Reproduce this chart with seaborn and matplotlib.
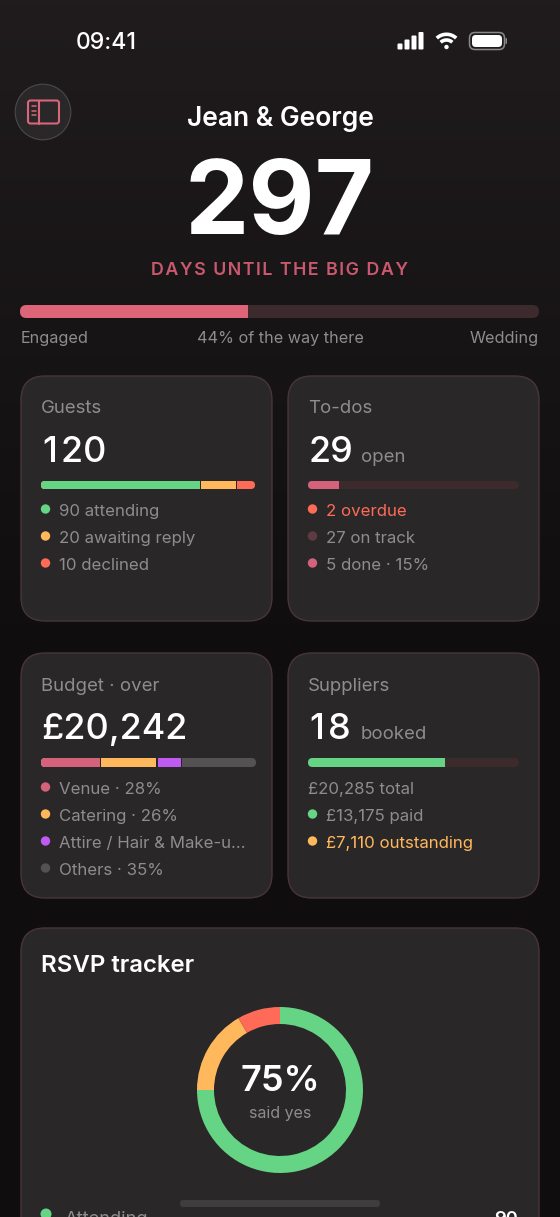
import numpy as np
import matplotlib
matplotlib.use("Agg")
import matplotlib.pyplot as plt
from matplotlib.patches import FancyBboxPatch, Circle
import seaborn as sns

# ---- data ----
couple = "Jean & George"
days_left = "297"
journey_pct = [44, 56]
guest_labels = ["90 attending", "20 awaiting reply", "10 declined"]
guest_values = [90, 20, 10]
todo_labels = ["2 overdue", "27 on track", "5 done · 15%"]
todo_values = [5, 29]
budget_labels = ["Venue · 28%", "Catering · 26%", "Attire / Hair & Make-u...", "Others · 35%"]
budget_values = [28, 26, 11, 35]
supplier_labels = ["£20,285 total", "£13,175 paid", "£7,110 outstanding"]
supplier_values = [13175, 7110]
rsvp_labels = ["Attending"]
rsvp_values = [90, 20, 10]

W, H = 560, 1217
GREEN, AMBER, RED = "#66d485", "#ffb85c", "#ff6b57"
PINK, PURPLE, GREY = "#d4627a", "#bf5af2", "#555254"
TRACK, CARD, EDGE = "#3d2a2d", "#2a2728", "#483538"
MUTED, WHITE = "#8f8c8d", "#ffffff"
BODY = 16.8
LABEL = 18.6
BIG = 36

sns.set_theme(style="white")
plt.rcParams["font.family"] = ["Inter", "DejaVu Sans"]

fig = plt.figure(figsize=(W / 100, H / 100), dpi=100)
main = fig.add_axes([0, 0, 1, 1])
yy = np.linspace(0, 1, 256)
c0, c1 = np.array([0x20, 0x1c, 0x1d]) / 255, np.array([0x0f, 0x0d, 0x0e]) / 255
t = np.clip(yy / 0.55, 0, 1)[:, None, None]
grad = c0[None, None, :] * (1 - t) + c1[None, None, :] * t
main.imshow(grad, extent=[0, W, H, 0], aspect="auto", zorder=0)
main.set_xlim(0, W)
main.set_ylim(H, 0)
main.axis("off")


def T(x, y, s, px, color=MUTED, weight="normal", ha="left"):
    main.text(x, y, s, fontsize=px * 0.72, color=color, fontweight=weight, ha=ha, va="baseline", zorder=5)


def rrect(x0, y0, x1, y1, r, fc, ec="none", lw=0, z=2):
    p = FancyBboxPatch((x0 + r, y0 + r), x1 - x0 - 2 * r, y1 - y0 - 2 * r,
                       boxstyle=f"round,pad={r},rounding_size={r}", fc=fc, ec=ec, lw=lw, zorder=z)
    main.add_patch(p)
    return p


def dot(x, y, c, r=4.7):
    main.add_patch(Circle((x, y), r, fc=c, ec="none", zorder=5))


def stacked(x0, y0, x1, y1, values, colors, total, track=None, gap_px=1.3):
    ax = fig.add_axes([x0 / W, 1 - y1 / H, (x1 - x0) / W, (y1 - y0) / H])
    ax.patch.set_alpha(0)
    r = (y1 - y0) / 2
    n_gaps = len(values) - 1 if not track else 0
    w = x1 - x0
    gap = gap_px * total / (w - n_gaps * gap_px) if n_gaps else 0
    span = total + n_gaps * gap
    ends = np.cumsum(values) + gap * np.arange(len(values))
    clip = FancyBboxPatch((x0 + r, y0 + r), w - 2 * r, y1 - y0 - 2 * r,
                          boxstyle=f"round,pad={r},rounding_size={r}", transform=main.transData)
    if track:
        sns.barplot(x=[span], y=[0], orient="h", color=track, saturation=1, width=1, linewidth=0, ax=ax)
    for v, c in list(zip(ends, colors))[::-1]:
        sns.barplot(x=[v], y=[0], orient="h", color=c, saturation=1, width=1, linewidth=0, ax=ax)
    if n_gaps:
        for v in ends[:-1]:
            ax.axvspan(v, v + gap, color=CARD, lw=0)
    ax.set_xlim(0, span)
    ax.set_ylim(0.5, -0.5)
    ax.axis("off")
    for art in list(ax.patches) + list(ax.lines):
        art.set_clip_path(clip)
    return ax


# ---- status bar ----
T(76, 49, "09:41", 23, WHITE, "medium")
for bx, bh in zip([397.5, 404.5, 411.5, 418.5], [6, 10, 14, 17.5]):
    rrect(bx, 49.5 - bh, bx + 5, 49.5, 1, WHITE, z=5)
cx, cy = 446.5, 48.5
for rad, lw in [(8.5, 2.6), (14.2, 2.6)]:
    a = np.radians(np.linspace(-43, 43, 30))
    main.plot(cx + rad * np.sin(a), cy - rad * np.cos(a), color=WHITE, lw=lw, solid_capstyle="butt", zorder=5)
main.add_patch(Circle((cx, cy - 1.5), 2.2, fc=WHITE, ec="none", zorder=5))
rrect(469.5, 32.5, 504.5, 49.5, 5.5, "none", "#8a8889", 1.1, z=5)
rrect(472, 35, 502, 47, 3.8, WHITE, z=5)
rrect(505.5, 38, 507, 44, 0.7, "#8a8889", z=5)

# ---- sidebar button ----
main.add_patch(Circle((43, 112), 27.8, fc="#2a2728", ec="#4b4a4b", lw=0.8, zorder=3))
rrect(28, 100.5, 59, 123.5, 2.5, "none", "#d9667a", 1.5, z=4)
main.plot([38.7, 38.7], [100.5, 123.5], color="#d9667a", lw=1.5, zorder=4)
for ly in [106, 110.5, 115]:
    main.plot([31.7, 35.7], [ly, ly], color="#d9667a", lw=1.1, zorder=4)

# ---- hero ----
T(280, 126, couple, 26.4, WHITE, "semibold", "center")
T(280, 234, days_left, 102, WHITE, "bold", "center")
T(280, 275, "\u200a".join("DAYS UNTIL THE BIG DAY"), 17.8, "#c9596f", "semibold", "center")
stacked(20, 305, 539, 318, journey_pct[:1], ["#de6578"], sum(journey_pct), track=TRACK)
T(21, 343, "Engaged", 16.2, MUTED)
T(280, 343, "44% of the way there", 16.2, MUTED, ha="center")
T(539, 343, "Wedding", 16.2, MUTED, ha="right")

# ---- cards ----
for x0, y0, x1, y1 in [(21, 376, 272, 621), (288, 376, 539, 621), (21, 653, 272, 898), (288, 653, 539, 898), (21, 928, 539, 1300)]:
    rrect(x0, y0, x1, y1, 24, CARD, EDGE, 1.0)

# Guests
T(41, 413, "Guests", LABEL)
T(43, 462, "1\u200a20", BIG, WHITE, "medium")
stacked(41, 481, 255, 489, guest_values, [GREEN, AMBER, RED], sum(guest_values))
for y, s, c in zip([516, 543, 570], guest_labels, [GREEN, AMBER, RED]):
    dot(45.5, y - 7, c)
    T(59, y, s, BODY)

# To-dos
T(308.5, 413, "To-dos", LABEL)
T(308.5, 462, "29", BIG, WHITE, "medium")
T(361, 462, "open", 18.5)
stacked(308, 481, 519, 489, todo_values[:1], [PINK], sum(todo_values), track=TRACK)
for y, s, c, tc in zip([516, 543, 570], todo_labels, [RED, "#5e3b43", PINK], [RED, MUTED, MUTED]):
    dot(312.5, y - 7, c)
    T(326, y, s, BODY, tc)

# Budget
T(41, 691, "Budget · over", LABEL)
T(41, 739, "£20,242", BIG, WHITE, "medium")
stacked(41, 758, 256, 767, budget_values, [PINK, AMBER, PURPLE, GREY], sum(budget_values))
for y, s, c in zip([794, 821, 848, 875], budget_labels, [PINK, AMBER, PURPLE, GREY]):
    dot(45.5, y - 7, c)
    T(59, y, s, BODY)

# Suppliers
T(308, 691, "Suppliers", LABEL)
T(310, 739, "1\u200a8", BIG, WHITE, "medium")
T(361, 739, "booked", 18.5)
stacked(308, 758, 519, 767, supplier_values[:1], [GREEN], sum(supplier_values), track=TRACK)
T(308, 794, supplier_labels[0], BODY)
dot(312.5, 814, GREEN)
T(326, 821, supplier_labels[1], BODY)
dot(312.5, 841, AMBER)
T(326, 848, supplier_labels[2], BODY, AMBER)

# RSVP
T(41, 972, "RSVP tracker", 24, WHITE, "semibold")
dax = fig.add_axes([(280 - 83) / W, 1 - (1090 + 83) / H, 166 / W, 166 / H])
dax.pie(rsvp_values, colors=[GREEN, AMBER, RED], startangle=90, counterclock=False, radius=1,
        wedgeprops={"width": 17 / 83, "linewidth": 0})
dax.set_xlim(-1, 1)
dax.set_ylim(-1, 1)
dax.axis("off")
T(280, 1091, "75%", 36, WHITE, "semibold", "center")
T(280, 1118, "said yes", 16, MUTED, ha="center")
dot(46, 1214, GREEN, 5.5)
T(65, 1224, rsvp_labels[0], 18.4, MUTED)
T(518, 1224, str(rsvp_values[0]), 18.5, WHITE, "semibold", "right")
rrect(180, 1200, 380, 1207, 3.5, "#3f3d3e", z=6)

fig.savefig("out.png", dpi=100)
